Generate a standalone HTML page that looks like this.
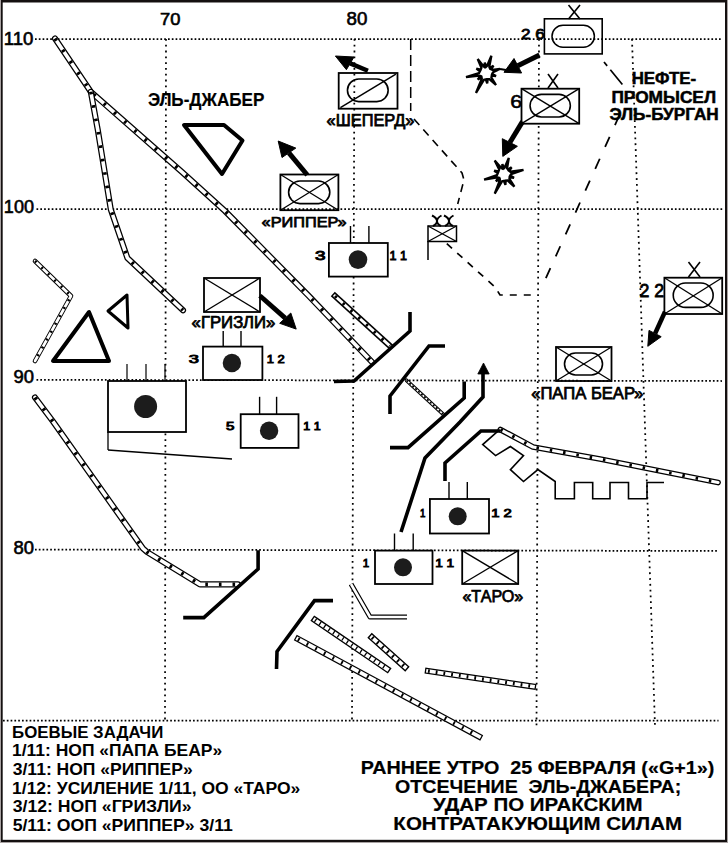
<!DOCTYPE html>
<html><head><meta charset="utf-8"><style>
html,body{margin:0;padding:0;background:#fff;}
svg{display:block;}
</style></head><body>
<svg width="728" height="843" viewBox="0 0 728 843">
<rect x="0" y="0" width="728" height="843" fill="#a8a2a2"/>
<rect x="1" y="0" width="726" height="842" fill="#141010"/>
<rect x="2.7" y="2.5" width="722.3" height="837.3" fill="#fff"/>
<polyline points="35,39 722,39" fill="none" stroke="#000" stroke-width="1.75" stroke-dasharray="1.7 2.1"/>
<polyline points="36.5,209 723,209" fill="none" stroke="#000" stroke-width="1.75" stroke-dasharray="1.7 2.1"/>
<polyline points="36.5,379.8 722,381" fill="none" stroke="#000" stroke-width="1.75" stroke-dasharray="1.7 2.1"/>
<polyline points="35,549.5 718,551" fill="none" stroke="#000" stroke-width="1.75" stroke-dasharray="1.7 2.1"/>
<polyline points="3,720.5 718.5,720.5" fill="none" stroke="#000" stroke-width="1.75" stroke-dasharray="1.7 2.1"/>
<polyline points="166,39 165,720" fill="none" stroke="#000" stroke-width="1.75" stroke-dasharray="1.8 4"/>
<polyline points="354.5,39 352,720" fill="none" stroke="#000" stroke-width="1.75" stroke-dasharray="1.8 4"/>
<polyline points="539,39 536.5,728" fill="none" stroke="#000" stroke-width="1.75" stroke-dasharray="1.8 4"/>
<polyline points="632,39 655,726" fill="none" stroke="#000" stroke-width="1.75" stroke-dasharray="1.8 4"/>
<text x="3.81" y="44.5" font-family="Liberation Sans" font-size="17.54" font-weight="normal" text-anchor="start" textLength="29.62" lengthAdjust="spacingAndGlyphs" stroke="#000" stroke-width="0.6">110</text>
<text x="3.85" y="213.4" font-family="Liberation Sans" font-size="17.83" font-weight="normal" text-anchor="start" textLength="30.14" lengthAdjust="spacingAndGlyphs" stroke="#000" stroke-width="0.6">100</text>
<text x="13.47" y="382.8" font-family="Liberation Sans" font-size="17.83" font-weight="normal" text-anchor="start" textLength="20.51" lengthAdjust="spacingAndGlyphs" stroke="#000" stroke-width="0.6">90</text>
<text x="13.47" y="553.7" font-family="Liberation Sans" font-size="17.97" font-weight="normal" text-anchor="start" textLength="20.51" lengthAdjust="spacingAndGlyphs" stroke="#000" stroke-width="0.6">80</text>
<text x="160.08" y="25.3" font-family="Liberation Sans" font-size="17.39" font-weight="normal" text-anchor="start" textLength="20.39" lengthAdjust="spacingAndGlyphs" stroke="#000" stroke-width="0.6">70</text>
<text x="346.56" y="25.3" font-family="Liberation Sans" font-size="17.83" font-weight="normal" text-anchor="start" textLength="20.84" lengthAdjust="spacingAndGlyphs" stroke="#000" stroke-width="0.6">80</text>
<polyline points="55,38.5 90.8,91.8 182,172 225,211 308.3,295.4 372,362" fill="none" stroke="#000" stroke-width="6.1" stroke-linejoin="round" stroke-linecap="round"/>
<polyline points="55,38.5 90.8,91.8 182,172 225,211 308.3,295.4 372,362" fill="none" stroke="#fff" stroke-width="3.6" stroke-linejoin="round" stroke-linecap="round"/>
<polyline points="55,38.5 90.8,91.8 182,172 225,211 308.3,295.4 372,362" fill="none" stroke="#000" stroke-width="3.6" stroke-dasharray="2.6 11"/>
<polyline points="90.8,91.8 97.8,130 110.8,209.5 127.4,258 183,310.3" fill="none" stroke="#000" stroke-width="6.1" stroke-linejoin="round" stroke-linecap="round"/>
<polyline points="90.8,91.8 97.8,130 110.8,209.5 127.4,258 183,310.3" fill="none" stroke="#fff" stroke-width="3.6" stroke-linejoin="round" stroke-linecap="round"/>
<polyline points="90.8,91.8 97.8,130 110.8,209.5 127.4,258 183,310.3" fill="none" stroke="#000" stroke-width="3.6" stroke-dasharray="2.6 11"/>
<polyline points="35,261 71,296 35,361" fill="none" stroke="#000" stroke-width="4.6" stroke-linejoin="round" stroke-linecap="round"/>
<polyline points="35,261 71,296 35,361" fill="none" stroke="#fff" stroke-width="2.6" stroke-linejoin="round" stroke-linecap="round"/>
<polyline points="35,261 71,296 35,361" fill="none" stroke="#000" stroke-width="2.6" stroke-dasharray="2 7"/>
<polyline points="35,397.5 53,421.5 143,548.5 147,552 200,584.4 238,584.4" fill="none" stroke="#000" stroke-width="6.1" stroke-linejoin="round" stroke-linecap="round"/>
<polyline points="35,397.5 53,421.5 143,548.5 147,552 200,584.4 238,584.4" fill="none" stroke="#fff" stroke-width="3.6" stroke-linejoin="round" stroke-linecap="round"/>
<polyline points="35,397.5 53,421.5 143,548.5 147,552 200,584.4 238,584.4" fill="none" stroke="#000" stroke-width="3.6" stroke-dasharray="2.6 11"/>
<polyline points="335,296 390,346" fill="none" stroke="#000" stroke-width="6" stroke-linejoin="round" stroke-linecap="square"/>
<polyline points="335,296 390,346" fill="none" stroke="#fff" stroke-width="3" stroke-linejoin="round" stroke-linecap="square"/>
<polyline points="335,296 390,346" fill="none" stroke="#000" stroke-width="3" stroke-dasharray="2.5 8"/>
<polyline points="351,584 370,617 407,617" fill="none" stroke="#000" stroke-width="5" stroke-linejoin="round" stroke-linecap="butt"/>
<polyline points="351,584 370,617 407,617" fill="none" stroke="#fff" stroke-width="2.6" stroke-linejoin="round" stroke-linecap="butt"/>
<polyline points="315,620 387,669" fill="none" stroke="#000" stroke-width="6.6" stroke-linejoin="round" stroke-linecap="square"/>
<polyline points="315,620 387,669" fill="none" stroke="#fff" stroke-width="3.8" stroke-linejoin="round" stroke-linecap="square"/>
<polyline points="315,620 387,669" fill="none" stroke="#000" stroke-width="3.8" stroke-dasharray="1.3 4.2"/>
<polyline points="298,639 479,736.5" fill="none" stroke="#000" stroke-width="6.2" stroke-linejoin="round" stroke-linecap="square"/>
<polyline points="298,639 479,736.5" fill="none" stroke="#fff" stroke-width="3.8" stroke-linejoin="round" stroke-linecap="square"/>
<polyline points="298,639 479,736.5" fill="none" stroke="#000" stroke-width="3.8" stroke-dasharray="1.8 8"/>
<polyline points="372,637.5 405,667" fill="none" stroke="#000" stroke-width="6.6" stroke-linejoin="round" stroke-linecap="square"/>
<polyline points="372,637.5 405,667" fill="none" stroke="#fff" stroke-width="3.8" stroke-linejoin="round" stroke-linecap="square"/>
<polyline points="372,637.5 405,667" fill="none" stroke="#000" stroke-width="3.8" stroke-dasharray="1.8 5"/>
<polyline points="428,671 533,686.5" fill="none" stroke="#000" stroke-width="6.2" stroke-linejoin="round" stroke-linecap="square"/>
<polyline points="428,671 533,686.5" fill="none" stroke="#fff" stroke-width="3.6" stroke-linejoin="round" stroke-linecap="square"/>
<polyline points="428,671 533,686.5" fill="none" stroke="#000" stroke-width="3.6" stroke-dasharray="1.8 6"/>
<polyline points="500.4,429.6 533,447 600,459 718,482.5" fill="none" stroke="#000" stroke-width="5.8" stroke-linejoin="round" stroke-linecap="round"/>
<polyline points="500.4,429.6 533,447 600,459 718,482.5" fill="none" stroke="#fff" stroke-width="3.2" stroke-linejoin="round" stroke-linecap="round"/>
<polyline points="500.4,429.6 533,447 600,459 718,482.5" fill="none" stroke="#000" stroke-width="3.2" stroke-dasharray="2.5 11"/>
<polyline points="410,312 410,331 354,381 334,381.5" fill="none" stroke="#000" stroke-width="3.6" stroke-linejoin="miter" stroke-linecap="butt"/>
<polyline points="445,346 429,346 390,396 390,414" fill="none" stroke="#000" stroke-width="3.6" stroke-linejoin="miter" stroke-linecap="butt"/>
<polyline points="406.5,380.3 443.6,414.6" fill="none" stroke="#000" stroke-width="3.8" stroke-linejoin="round" stroke-linecap="round"/>
<polyline points="406.5,380.3 443.6,414.6" fill="none" stroke="#fff" stroke-width="1.6" stroke-linejoin="round" stroke-linecap="round"/>
<polyline points="406.5,380.3 443.6,414.6" fill="none" stroke="#000" stroke-width="1.6" stroke-dasharray="2 2"/>
<polyline points="464.2,381.6 464.2,398 408,447.6 390,447.6" fill="none" stroke="#000" stroke-width="3.6" stroke-linejoin="miter" stroke-linecap="butt"/>
<polyline points="483,373 483,397 460,422 425,458 401,532" fill="none" stroke="#000" stroke-width="3.6" stroke-linejoin="miter" stroke-linecap="butt"/>
<polygon points="483.5,363 477.8,374 489.2,374" fill="#000" stroke="#000" stroke-width="0.8"/>
<polyline points="500,431 481,431 445,463 445,481" fill="none" stroke="#000" stroke-width="3.6" stroke-linejoin="miter" stroke-linecap="butt"/>
<polyline points="258.1,550.3 258.1,569 203.8,617.6 183.2,617.6" fill="none" stroke="#000" stroke-width="3.6" stroke-linejoin="miter" stroke-linecap="butt"/>
<polyline points="333,600.6 314.5,600.6 277,651.5 276.5,669" fill="none" stroke="#000" stroke-width="3.6" stroke-linejoin="miter" stroke-linecap="butt"/>
<polyline points="108,450 232,459" fill="none" stroke="#000" stroke-width="1.4" stroke-linejoin="miter" stroke-linecap="butt"/>
<polyline points="498.5,430.6 482.7,444.6 495.6,455.6 510.4,446.5 523.5,455.6 510.4,469.6 523.5,481.5 537.9,469.6 555.2,481.5 555.2,498.8 574.4,498.8 574.4,482.5 592.7,482.5 592.7,498.8 610,498.8 610,482.5 628.5,482.5 628.5,498.8 647,498.8 647,482.5 664,482.5" fill="none" stroke="#000" stroke-width="1.6" stroke-linejoin="miter" stroke-linecap="butt"/>
<polygon points="184,125 224,125 242.5,140.5 222,174" fill="none" stroke="#000" stroke-width="4" stroke-linejoin="round"/>
<polygon points="108,311 127,295 128,328" fill="none" stroke="#000" stroke-width="3" stroke-linejoin="round"/>
<polygon points="89,312 53,361 109,361" fill="none" stroke="#000" stroke-width="4" stroke-linejoin="round"/>
<rect x="108" y="381" width="78" height="51" fill="#fff" stroke="#000" stroke-width="1.8"/>
<polyline points="108,432 108,450" fill="none" stroke="#000" stroke-width="1.3" stroke-linejoin="miter" stroke-linecap="butt"/>
<polyline points="127,364 127,381" fill="none" stroke="#000" stroke-width="1.2" stroke-linejoin="miter" stroke-linecap="butt"/>
<polyline points="146,364 146,381" fill="none" stroke="#000" stroke-width="1.2" stroke-linejoin="miter" stroke-linecap="butt"/>
<polyline points="165,364 165,381" fill="none" stroke="#000" stroke-width="1.2" stroke-linejoin="miter" stroke-linecap="butt"/>
<circle cx="145.6" cy="406.5" r="11.5" fill="#1c1c1c"/>
<rect x="328.9" y="243" width="58.9" height="33.6" fill="#fff" stroke="#000" stroke-width="1.8"/>
<polyline points="350.5,226 350.5,243" fill="none" stroke="#000" stroke-width="1.4" stroke-linejoin="miter" stroke-linecap="butt"/>
<polyline points="368.9,226 368.9,243" fill="none" stroke="#000" stroke-width="1.4" stroke-linejoin="miter" stroke-linecap="butt"/>
<circle cx="358" cy="259.6" r="9.3" fill="#1c1c1c"/>
<rect x="203" y="346.6" width="59.4" height="33.4" fill="#fff" stroke="#000" stroke-width="1.8"/>
<polyline points="223.2,331 223.2,346.6" fill="none" stroke="#000" stroke-width="1.4" stroke-linejoin="miter" stroke-linecap="butt"/>
<polyline points="241,331 241,346.6" fill="none" stroke="#000" stroke-width="1.4" stroke-linejoin="miter" stroke-linecap="butt"/>
<circle cx="231.9" cy="363" r="9.2" fill="#1c1c1c"/>
<rect x="240.7" y="414.2" width="57.8" height="33.7" fill="#fff" stroke="#000" stroke-width="1.8"/>
<polyline points="259.6,396.8 259.6,414.2" fill="none" stroke="#000" stroke-width="1.4" stroke-linejoin="miter" stroke-linecap="butt"/>
<polyline points="276.6,396.8 276.6,414.2" fill="none" stroke="#000" stroke-width="1.4" stroke-linejoin="miter" stroke-linecap="butt"/>
<circle cx="269.1" cy="430.8" r="9.2" fill="#1c1c1c"/>
<rect x="429.9" y="499" width="59.1" height="34.5" fill="#fff" stroke="#000" stroke-width="1.8"/>
<polyline points="449,482 449,499" fill="none" stroke="#000" stroke-width="1.4" stroke-linejoin="miter" stroke-linecap="butt"/>
<polyline points="467.3,482 467.3,499" fill="none" stroke="#000" stroke-width="1.4" stroke-linejoin="miter" stroke-linecap="butt"/>
<circle cx="457.7" cy="516.3" r="9" fill="#1c1c1c"/>
<rect x="375" y="550.6" width="57.5" height="33.4" fill="#fff" stroke="#000" stroke-width="1.8"/>
<polyline points="394.5,533.5 394.5,550.6" fill="none" stroke="#000" stroke-width="1.4" stroke-linejoin="miter" stroke-linecap="butt"/>
<polyline points="413.2,533.5 413.2,550.6" fill="none" stroke="#000" stroke-width="1.4" stroke-linejoin="miter" stroke-linecap="butt"/>
<circle cx="403" cy="567.3" r="9" fill="#1c1c1c"/>
<rect x="462.2" y="550.6" width="56" height="33.4" fill="none" stroke="#000" stroke-width="1.8"/>
<polyline points="462.2,550.6 518.2,584.0" fill="none" stroke="#000" stroke-width="1.35" stroke-linejoin="miter" stroke-linecap="butt"/>
<polyline points="462.2,584.0 518.2,550.6" fill="none" stroke="#000" stroke-width="1.35" stroke-linejoin="miter" stroke-linecap="butt"/>
<rect x="204" y="278" width="56" height="34" fill="none" stroke="#000" stroke-width="1.8"/>
<polyline points="204,278 260,312" fill="none" stroke="#000" stroke-width="1.35" stroke-linejoin="miter" stroke-linecap="butt"/>
<polyline points="204,312 260,278" fill="none" stroke="#000" stroke-width="1.35" stroke-linejoin="miter" stroke-linecap="butt"/>
<polyline points="259.9,295.7 285.25,318.15" fill="none" stroke="#000" stroke-width="4.8" stroke-linejoin="miter" stroke-linecap="butt"/>
<polygon points="296.2,329.1 290.8,313 279.7,323.3" fill="#000" stroke="#000" stroke-width="1" stroke-linejoin="round"/>
<rect x="280.4" y="174.5" width="58" height="35.7" fill="none" stroke="#000" stroke-width="1.8"/>
<polyline points="280.4,174.5 338.4,210.2" fill="none" stroke="#000" stroke-width="1.35" stroke-linejoin="miter" stroke-linecap="butt"/>
<polyline points="280.4,210.2 338.4,174.5" fill="none" stroke="#000" stroke-width="1.35" stroke-linejoin="miter" stroke-linecap="butt"/>
<rect x="288.59999999999997" y="181.0" width="41.2" height="22.6" rx="11.3" ry="11.3" fill="none" stroke="#000" stroke-width="1.6"/>
<polyline points="307.3,175 288.9,152.8" fill="none" stroke="#000" stroke-width="5" stroke-linejoin="miter" stroke-linecap="butt"/>
<polygon points="278.2,141 295.8,148.1 282,157.5" fill="#000" stroke="#000" stroke-width="1" stroke-linejoin="round"/>
<rect x="338.7" y="73" width="58.8" height="35.7" fill="none" stroke="#000" stroke-width="1.8"/>
<rect x="347.45" y="79.0" width="40.7" height="22.6" rx="11.3" ry="11.3" fill="none" stroke="#000" stroke-width="1.6"/>
<polyline points="340.4,107.6 395.9,74.1" fill="none" stroke="#000" stroke-width="1.5" stroke-linejoin="miter" stroke-linecap="butt"/>
<polyline points="367.9,70.8 350.2,63.35" fill="none" stroke="#000" stroke-width="4.5" stroke-linejoin="miter" stroke-linecap="butt"/>
<polygon points="335.4,56 354,57 346.4,69.7" fill="#000" stroke="#000" stroke-width="1" stroke-linejoin="round"/>
<rect x="544.4" y="18.8" width="57.8" height="35.1" fill="none" stroke="#000" stroke-width="1.6"/>
<rect x="552.0" y="25.349999999999998" width="42.4" height="21.9" rx="10.95" ry="10.95" fill="none" stroke="#000" stroke-width="1.5"/>
<polyline points="568.5,5 580,19" fill="none" stroke="#000" stroke-width="1.6" stroke-linejoin="miter" stroke-linecap="butt"/>
<polyline points="580,5 568.5,19" fill="none" stroke="#000" stroke-width="1.6" stroke-linejoin="miter" stroke-linecap="butt"/>
<polyline points="539.5,55 517.8,65.75" fill="none" stroke="#000" stroke-width="5" stroke-linejoin="miter" stroke-linecap="butt"/>
<polygon points="504,72.3 514,58.5 521.6,73" fill="#000" stroke="#000" stroke-width="1" stroke-linejoin="round"/>
<polyline points="500,69 506,70" fill="none" stroke="#000" stroke-width="2" stroke-linejoin="miter" stroke-linecap="butt"/>
<polygon points="481.4,67.7 477.7,59 483.6,66.4 484.3,66.9 484.8,62.6 486.2,66.7 486.9,66.1 491.4,55.8 489.3,66.8 489.8,68.0 493.5,65.7 491.1,69.3 492.3,69.9 500,69 493.0,72.3 492.2,73.9 496.0,76.1 491.7,75.7 491.4,77.5 496,85 489.4,79.1 487.7,79.1 487.2,83.4 485.8,79.3 484.0,79.7 476,93 481.8,78.6 481.6,77.5 477.7,79.4 480.5,76.0 479.5,75.6 466,77 479.0,73.1 479.9,71.3 476.4,68.7 480.7,69.6" fill="#fff" stroke="#000" stroke-width="2.3" stroke-linejoin="miter" stroke-miterlimit="3"/>
<rect x="521.5" y="88.7" width="57.7" height="35" fill="#fff" stroke="#000" stroke-width="1.8"/>
<polyline points="521.5,88.7 579.2,123.7" fill="none" stroke="#000" stroke-width="1.35" stroke-linejoin="miter" stroke-linecap="butt"/>
<polyline points="521.5,123.7 579.2,88.7" fill="none" stroke="#000" stroke-width="1.35" stroke-linejoin="miter" stroke-linecap="butt"/>
<rect x="530.0500000000001" y="94.4" width="40.3" height="22.6" rx="11.3" ry="11.3" fill="none" stroke="#000" stroke-width="1.6"/>
<polyline points="548,74 558,88" fill="none" stroke="#000" stroke-width="1.6" stroke-linejoin="miter" stroke-linecap="butt"/>
<polyline points="558,74 548,88" fill="none" stroke="#000" stroke-width="1.6" stroke-linejoin="miter" stroke-linecap="butt"/>
<polyline points="522.5,121.6 509.85,142.5" fill="none" stroke="#000" stroke-width="5" stroke-linejoin="miter" stroke-linecap="butt"/>
<polygon points="502.8,156.4 502.3,138.7 517.4,146.3" fill="#000" stroke="#000" stroke-width="1" stroke-linejoin="round"/>
<polygon points="499.2,169.4 494.7,160.4 501.3,168.1 502.1,168.5 502.4,164.1 504.0,168.2 504.7,167.5 508.8,157.9 507.1,168.2 507.9,169.5 511.6,167.3 509.2,170.9 510.4,171.7 523.5,170 511.0,174.2 510.2,175.5 514.0,177.8 509.6,177.3 509.4,178.9 514.4,186.6 507.5,180.5 505.7,180.6 505.4,184.9 503.9,180.8 502.1,181.2 494.7,193.7 499.9,180.2 499.8,179.2 495.9,181.1 498.6,177.7 497.6,177.4 484.1,179.6 497.0,175.0 497.8,173.1 494.2,170.7 498.5,171.4" fill="#fff" stroke="#000" stroke-width="2.3" stroke-linejoin="miter" stroke-miterlimit="3"/>
<rect x="428" y="226" width="28.5" height="15.5" fill="none" stroke="#000" stroke-width="1.5"/>
<polyline points="428,226 456.5,241.5" fill="none" stroke="#000" stroke-width="1.35" stroke-linejoin="miter" stroke-linecap="butt"/>
<polyline points="428,241.5 456.5,226" fill="none" stroke="#000" stroke-width="1.35" stroke-linejoin="miter" stroke-linecap="butt"/>
<polyline points="428,241 428,260" fill="none" stroke="#000" stroke-width="1.5" stroke-linejoin="miter" stroke-linecap="butt"/>
<path d="M432,215.5 Q437,218 437,221 Q437,224 441,226 M441.5,215.5 Q437,218 437,221 Q437,224 433,226 M444,215.5 Q449,218 449,221 Q449,224 453,226 M453.5,215.5 Q449,218 449,221 Q449,224 445,226" fill="none" stroke="#000" stroke-width="2"/>
<rect x="664.4" y="277.7" width="57.8" height="36.3" fill="none" stroke="#000" stroke-width="1.8"/>
<polyline points="664.4,277.7 722.1999999999999,314.0" fill="none" stroke="#000" stroke-width="1.35" stroke-linejoin="miter" stroke-linecap="butt"/>
<polyline points="664.4,314.0 722.1999999999999,277.7" fill="none" stroke="#000" stroke-width="1.35" stroke-linejoin="miter" stroke-linecap="butt"/>
<rect x="673.25" y="283.0" width="39.9" height="24.4" rx="12.2" ry="12.2" fill="none" stroke="#000" stroke-width="1.6"/>
<polyline points="688.5,262 700,277" fill="none" stroke="#000" stroke-width="1.6" stroke-linejoin="miter" stroke-linecap="butt"/>
<polyline points="700,262 688.5,277" fill="none" stroke="#000" stroke-width="1.6" stroke-linejoin="miter" stroke-linecap="butt"/>
<polyline points="665,311.8 655.1,333.54999999999995" fill="none" stroke="#000" stroke-width="4.5" stroke-linejoin="miter" stroke-linecap="butt"/>
<polygon points="647.8,346.3 649,330.4 661.2,336.7" fill="#000" stroke="#000" stroke-width="1" stroke-linejoin="round"/>
<rect x="556" y="347" width="55.5" height="34" fill="none" stroke="#000" stroke-width="1.8"/>
<polyline points="556,347 611.5,381" fill="none" stroke="#000" stroke-width="1.35" stroke-linejoin="miter" stroke-linecap="butt"/>
<polyline points="556,381 611.5,347" fill="none" stroke="#000" stroke-width="1.35" stroke-linejoin="miter" stroke-linecap="butt"/>
<rect x="564.5" y="353.0" width="38" height="22" rx="11.0" ry="11.0" fill="none" stroke="#000" stroke-width="1.6"/>
<polyline points="410.7,39 410.7,111" fill="none" stroke="#000" stroke-width="1.5" stroke-dasharray="11 5"/>
<polyline points="414,119 462,173 464,180 457.7,204" fill="none" stroke="#000" stroke-width="1.6" stroke-dasharray="8 6"/>
<polyline points="446.8,243.7 495,287 500,295 537,295" fill="none" stroke="#000" stroke-width="1.7" stroke-dasharray="7 7"/>
<polyline points="604,62 631,95" fill="none" stroke="#000" stroke-width="1.7" stroke-dasharray="5 5 19 100"/>
<polyline points="619.5,115 543.5,283.4" fill="none" stroke="#000" stroke-width="1.8" stroke-dasharray="11 13"/>
<text x="147.89" y="106.2" font-family="Liberation Sans" font-size="18.55" font-weight="bold" text-anchor="start" textLength="116.48" lengthAdjust="spacingAndGlyphs" stroke="#000" stroke-width="0.2">ЭЛЬ-ДЖАБЕР</text>
<text x="261.62" y="227.32" font-family="Liberation Sans" font-size="14.86" font-weight="normal" text-anchor="start" textLength="85.01" lengthAdjust="spacingAndGlyphs" stroke="#000" stroke-width="0.75">«РИППЕР»</text>
<text x="191.61" y="328.12" font-family="Liberation Sans" font-size="16.74" font-weight="normal" text-anchor="start" textLength="83.73" lengthAdjust="spacingAndGlyphs" stroke="#000" stroke-width="0.75">«ГРИЗЛИ»</text>
<text x="326.62" y="126.12" font-family="Liberation Sans" font-size="15.72" font-weight="normal" text-anchor="start" textLength="87.74" lengthAdjust="spacingAndGlyphs" stroke="#000" stroke-width="0.75">«ШЕПЕРД»</text>
<text x="531.21" y="398.82" font-family="Liberation Sans" font-size="15.72" font-weight="normal" text-anchor="start" textLength="112.11" lengthAdjust="spacingAndGlyphs" stroke="#000" stroke-width="0.75">«ПАПА БЕАР»</text>
<text x="462.43" y="601.62" font-family="Liberation Sans" font-size="16.88" font-weight="normal" text-anchor="start" textLength="60.84" lengthAdjust="spacingAndGlyphs" stroke="#000" stroke-width="0.75">«ТАРО»</text>
<text x="631.65" y="84.35" font-family="Liberation Sans" font-size="17.1" font-weight="bold" text-anchor="start" textLength="64.5" lengthAdjust="spacingAndGlyphs" stroke="#000" stroke-width="0.5">НЕФТЕ-</text>
<text x="611.43" y="102.75" font-family="Liberation Sans" font-size="15.8" font-weight="bold" text-anchor="start" textLength="104.6" lengthAdjust="spacingAndGlyphs" stroke="#000" stroke-width="0.5">ПРОМЫСЕЛ</text>
<text x="609.43" y="120.35" font-family="Liberation Sans" font-size="15.8" font-weight="bold" text-anchor="start" textLength="109.29" lengthAdjust="spacingAndGlyphs" stroke="#000" stroke-width="0.5">ЭЛЬ-БУРГАН</text>
<text x="314.99" y="259.55" font-family="Liberation Sans" font-size="12.9" font-weight="normal" text-anchor="start" textLength="10.53" lengthAdjust="spacingAndGlyphs" stroke="#000" stroke-width="0.9">3</text>
<text x="389.51" y="259.55" font-family="Liberation Sans" font-size="12.9" font-weight="normal" text-anchor="start" textLength="17.36" lengthAdjust="spacingAndGlyphs" stroke="#000" stroke-width="0.9">1 1</text>
<text x="188.72" y="362.55" font-family="Liberation Sans" font-size="11.74" font-weight="normal" text-anchor="start" textLength="10.18" lengthAdjust="spacingAndGlyphs" stroke="#000" stroke-width="0.9">3</text>
<text x="266.78" y="362.55" font-family="Liberation Sans" font-size="11.74" font-weight="normal" text-anchor="start" textLength="18.02" lengthAdjust="spacingAndGlyphs" stroke="#000" stroke-width="0.9">1 2</text>
<text x="226.14" y="430.35" font-family="Liberation Sans" font-size="10.72" font-weight="normal" text-anchor="start" textLength="8.43" lengthAdjust="spacingAndGlyphs" stroke="#000" stroke-width="0.9">5</text>
<text x="303.31" y="430.35" font-family="Liberation Sans" font-size="10.72" font-weight="normal" text-anchor="start" textLength="17.36" lengthAdjust="spacingAndGlyphs" stroke="#000" stroke-width="0.9">1 1</text>
<text x="420.12" y="516.95" font-family="Liberation Sans" font-size="11.45" font-weight="normal" text-anchor="start" textLength="5.43" lengthAdjust="spacingAndGlyphs" stroke="#000" stroke-width="0.9">1</text>
<text x="491.24" y="516.95" font-family="Liberation Sans" font-size="11.45" font-weight="normal" text-anchor="start" textLength="20.66" lengthAdjust="spacingAndGlyphs" stroke="#000" stroke-width="0.9">1 2</text>
<text x="362.88" y="567.05" font-family="Liberation Sans" font-size="11.45" font-weight="normal" text-anchor="start" textLength="6.47" lengthAdjust="spacingAndGlyphs" stroke="#000" stroke-width="0.9">1</text>
<text x="435.22" y="567.05" font-family="Liberation Sans" font-size="11.45" font-weight="normal" text-anchor="start" textLength="19.01" lengthAdjust="spacingAndGlyphs" stroke="#000" stroke-width="0.9">1 1</text>
<text x="520.94" y="38.6" font-family="Liberation Sans" font-size="15.07" font-weight="normal" text-anchor="start" textLength="23.83" lengthAdjust="spacingAndGlyphs" stroke="#000" stroke-width="0.8">2 6</text>
<text x="510.23" y="108.3" font-family="Liberation Sans" font-size="18.99" font-weight="normal" text-anchor="start" textLength="11.85" lengthAdjust="spacingAndGlyphs" stroke="#000" stroke-width="0.6">6</text>
<text x="639.51" y="297.4" font-family="Liberation Sans" font-size="18.26" font-weight="normal" text-anchor="start" textLength="24.68" lengthAdjust="spacingAndGlyphs" stroke="#000" stroke-width="0.8">2 2</text>
<text x="12.11" y="737.6" font-family="Liberation Sans" font-size="16.52" font-weight="bold" text-anchor="start" textLength="151.18" lengthAdjust="spacingAndGlyphs">БОЕВЫЕ ЗАДАЧИ</text>
<text x="12.06" y="756.3" font-family="Liberation Sans" font-size="16.96" font-weight="bold" text-anchor="start" textLength="210.16" lengthAdjust="spacingAndGlyphs">1/11: НОП «ПАПА БЕАР»</text>
<text x="12.76" y="775.0" font-family="Liberation Sans" font-size="16.96" font-weight="bold" text-anchor="start" textLength="179.88" lengthAdjust="spacingAndGlyphs">3/11: НОП «РИППЕР»</text>
<text x="12.06" y="793.6" font-family="Liberation Sans" font-size="16.52" font-weight="bold" text-anchor="start" textLength="288.21" lengthAdjust="spacingAndGlyphs">1/12: УСИЛЕНИЕ 1/11, ОО «ТАРО»</text>
<text x="12.76" y="811.7" font-family="Liberation Sans" font-size="16.52" font-weight="bold" text-anchor="start" textLength="178.75" lengthAdjust="spacingAndGlyphs">3/12: НОП «ГРИЗЛИ»</text>
<text x="12.67" y="831.0" font-family="Liberation Sans" font-size="16.96" font-weight="bold" text-anchor="start" textLength="220.22" lengthAdjust="spacingAndGlyphs">5/11: ООП «РИППЕР» 3/11</text>
<text x="360.72" y="773.9" font-family="Liberation Sans" font-size="18.41" font-weight="bold" text-anchor="start" textLength="353.55" lengthAdjust="spacingAndGlyphs" stroke="#000" stroke-width="0.2">РАННЕЕ УТРО&#160; 25 ФЕВРАЛЯ («G+1»)</text>
<text x="395.12" y="792.5" font-family="Liberation Sans" font-size="18.41" font-weight="bold" text-anchor="start" textLength="286.08" lengthAdjust="spacingAndGlyphs" stroke="#000" stroke-width="0.2">ОТСЕЧЕНИЕ&#160; ЭЛЬ-ДЖАБЕРА;</text>
<text x="433.0" y="811.0" font-family="Liberation Sans" font-size="18.26" font-weight="bold" text-anchor="start" textLength="209.67" lengthAdjust="spacingAndGlyphs" stroke="#000" stroke-width="0.2">УДАР ПО ИРАКСКИМ</text>
<text x="393.37" y="830.3" font-family="Liberation Sans" font-size="18.7" font-weight="bold" text-anchor="start" textLength="288.73" lengthAdjust="spacingAndGlyphs" stroke="#000" stroke-width="0.2">КОНТРАТАКУЮЩИМ СИЛАМ</text>

</svg>
</body></html>
